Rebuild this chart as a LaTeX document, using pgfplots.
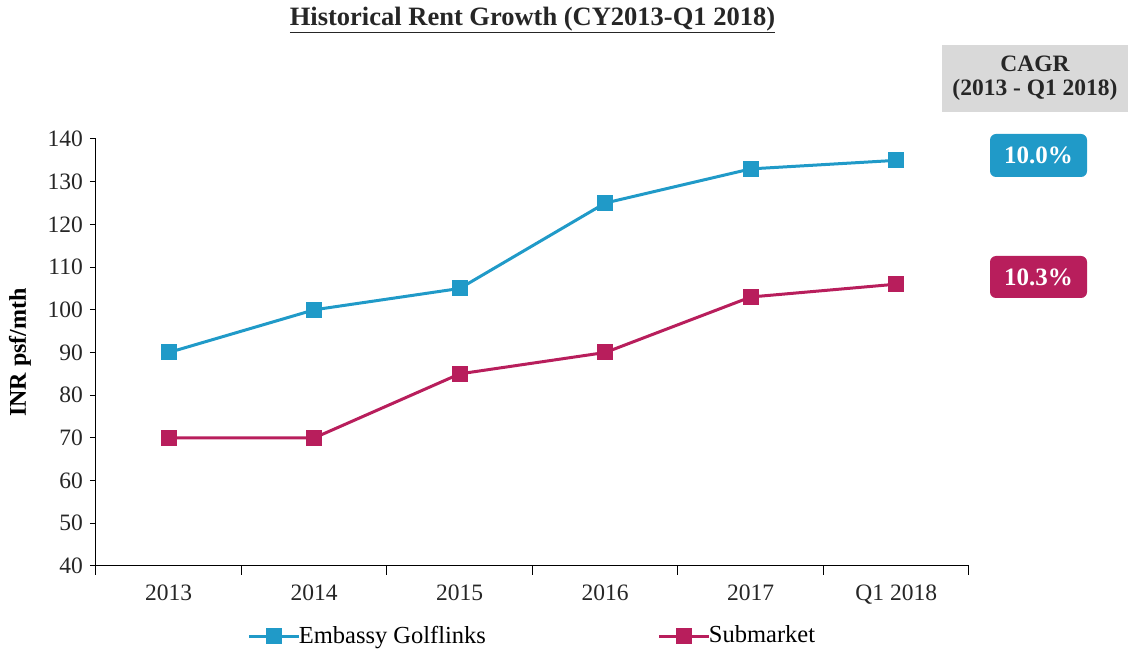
\documentclass[border=0pt]{standalone}
\usepackage{pgfplots}
\pgfplotsset{compat=1.18}
\usepackage{fontspec}
\setmainfont{Liberation Serif}
\definecolor{cblue}{HTML}{209AC8}
\definecolor{cmag}{HTML}{B81E5C}
\definecolor{cgray}{HTML}{D9D9D9}
\begin{document}
\fontsize{21pt}{25pt}\selectfont
\begin{tikzpicture}[x=1pt,y=1pt]
\useasboundingbox (0,0) rectangle (1128,651);
\begin{axis}[
  at={(96pt,85pt)}, anchor=south west,
  scale only axis, width=873pt, height=427pt,
  xmin=-0.5, xmax=5.5, ymin=40, ymax=140,
  ytick={40,50,...,140},
  xtick={0,...,5},
  xticklabels={2013,2014,2015,2016,2017,Q1 2018},
  minor xtick={-0.5,0.5,...,5.5},
  axis x line*=bottom, axis y line*=left,
  axis line style={-, line width=1pt, black},
  tick style={black, line width=1pt},
  tick align=outside,
  major tick length=6pt,
  minor tick length=9pt,
  major x tick style={draw=none},
  xticklabel style={yshift=-6pt},
  /pgf/number format/assume math mode=true,
  ticklabel style={font=\fontsize{23.5pt}{27pt}\selectfont, text=black!85},
  ylabel={\textbf{INR psf/mth}},
  ylabel style={at={(axis description cs:-0.087,0.5)}, anchor=center, font=\fontsize{24pt}{28pt}\selectfont},
  legend columns=2,
  legend style={draw=none, at={(0.5,-0.164)}, anchor=center, font=\fontsize{24.5pt}{28pt}\selectfont,
    /tikz/every even column/.append style={column sep=170pt},
    /tikz/every odd column/.append style={column sep=-4pt}},
  legend image code/.code={\draw[#1, mark repeat=2, mark phase=2] plot coordinates {(0pt,0pt) (25pt,0pt) (50pt,0pt)};},
]
\addplot[cblue, line width=3pt, mark=square*, mark size=6.5pt, mark options={solid}] coordinates {(0,90) (1,100) (2,105) (3,125) (4,133) (5,135)};
\addlegendentry{Embassy Golflinks}
\addplot[cmag, line width=3pt, mark=square*, mark size=6.5pt, mark options={solid}] coordinates {(0,70) (1,70) (2,85) (3,90) (4,103) (5,106)};
\addlegendentry{Submarket}
\end{axis}
\node[font=\bfseries\fontsize{26.5pt}{30pt}\selectfont, text=black!85] at (532.5,631) {\underline{Historical Rent Growth (CY2013-Q1 2018)}};
\fill[cgray] (942,539) rectangle (1128,606);
\node[align=center, font=\bfseries\fontsize{23.5pt}{24pt}\selectfont, text=black!85] at (1035,572.5) {CAGR\\(2013 - Q1 2018)};
\node[fill=cblue, rounded corners=6pt, minimum width=97pt, minimum height=43pt, text=white, font=\bfseries\fontsize{25pt}{28pt}\selectfont, inner sep=0pt] at (1038.5,495.5) {10.0\%};
\node[fill=cmag, rounded corners=6pt, minimum width=97pt, minimum height=42pt, text=white, font=\bfseries\fontsize{25pt}{28pt}\selectfont, inner sep=0pt] at (1038.5,374) {10.3\%};
\end{tikzpicture}
\end{document}
